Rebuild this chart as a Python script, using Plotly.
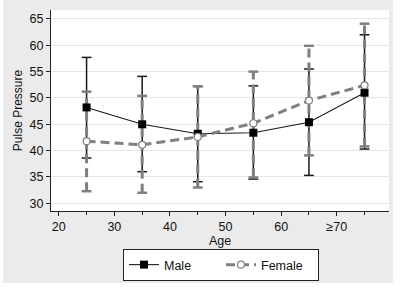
import plotly.graph_objects as go

age = [25, 35, 45, 55, 65, 75]
male_mean = [48.2, 45.0, 43.2, 43.4, 45.4, 51.0]
male_lo = [38.6, 36.0, 34.1, 34.6, 35.3, 40.3]
male_hi = [57.7, 54.1, 52.2, 52.3, 55.5, 62.0]
female_mean = [41.8, 41.1, 42.6, 45.2, 49.5, 52.4]
female_lo = [32.3, 32.0, 33.0, 34.9, 39.1, 40.8]
female_hi = [51.2, 50.4, 52.2, 55.0, 59.9, 64.1]
x_ticks = [20, 30, 40, 50, 60, 70]
x_ticktext = ["20", "30", "40", "50", "60", "≥70"]
y_ticks = [30, 35, 40, 45, 50, 55, 60, 65]

FONT = "Liberation Sans, Arial, sans-serif"
GRAY = "#7f7f7f"
DASH = "9px,5px"

def bar_xy(xs, lo, hi):
    bx, by = [], []
    for x, a, b in zip(xs, lo, hi):
        bx += [x, x, None]
        by += [a, b, None]
    return bx, by

fig = go.Figure()

# Male error bars
mx, my = bar_xy(age, male_lo, male_hi)
fig.add_trace(go.Scatter(x=mx, y=my, mode="lines", line=dict(color="#1a1a1a", width=1.5),
                         showlegend=False, hoverinfo="skip"))
fig.add_trace(go.Scatter(x=age + age, y=male_lo + male_hi, mode="markers",
                         marker=dict(symbol="line-ew", size=7, line=dict(color="#1a1a1a", width=1.5)),
                         showlegend=False, hoverinfo="skip"))
# Female error bars
fx, fy = bar_xy(age, female_lo, female_hi)
fig.add_trace(go.Scatter(x=fx, y=fy, mode="lines", line=dict(color=GRAY, width=3, dash=DASH),
                         showlegend=False, hoverinfo="skip"))
fig.add_trace(go.Scatter(x=age + age, y=female_lo + female_hi, mode="markers",
                         marker=dict(symbol="line-ew", size=7, line=dict(color=GRAY, width=2.5)),
                         showlegend=False, hoverinfo="skip"))

fig.add_trace(go.Scatter(x=age, y=male_mean, mode="lines+markers", name="Male",
                         line=dict(color="#1a1a1a", width=1.1),
                         marker=dict(symbol="square", size=8, color="black")))
fig.add_trace(go.Scatter(x=age, y=female_mean, mode="lines+markers", name="Female",
                         line=dict(color=GRAY, width=3, dash=DASH),
                         marker=dict(symbol="circle", size=7, color="white",
                                     line=dict(color=GRAY, width=1.2))))

L, R, T, B = 51, 11, 10, 76
pw, ph = 400 - L - R, 287 - T - B

def px_x(v):
    return (v - L) / pw

def px_y(v):
    return (T + ph - v) / ph

# thin white page border around the grey chart background
for x0, x1, y0, y1 in [(0, 3, 0, 287), (393, 400, 0, 287), (0, 400, 283, 287)]:
    fig.add_shape(type="rect", xref="paper", yref="paper",
                  x0=px_x(x0), x1=px_x(x1), y0=px_y(y1), y1=px_y(y0),
                  fillcolor="white", line=dict(width=0), layer="above")

fig.update_layout(
    width=400, height=287,
    margin=dict(l=L, r=R, t=T, b=B, autoexpand=False),
    paper_bgcolor="#ebebeb", plot_bgcolor="white",
    font=dict(family=FONT, size=12, color="#111"),
    showlegend=True,
    legend=dict(orientation="h", xref="container", yref="container",
                x=123 / 400, xanchor="left", y=1 - 249 / 287, yanchor="top",
                bordercolor="#222", borderwidth=1, bgcolor="white",
                font=dict(size=12.5), tracegroupgap=0, entrywidth=52, entrywidthmode="pixels"),
)
fig.update_xaxes(range=[18.6, 79.4], tickmode="array", tickvals=x_ticks, ticktext=x_ticktext,
                 showgrid=False, zeroline=False, showline=True, linecolor="#222", linewidth=1,
                 ticks="outside", ticklen=4, tickcolor="#222", automargin=False,
                 tickfont=dict(size=12.5),
                 minor=dict(tickmode="array", tickvals=age, ticks="outside", ticklen=3, tickcolor="#222"),
                 title=dict(text="Age", standoff=0, font=dict(size=12.5)))
fig.update_yaxes(range=[28.54, 66.7], tickmode="array", tickvals=y_ticks,
                 showgrid=True, gridcolor="#e6e6e6", gridwidth=1, zeroline=False,
                 showline=True, linecolor="#222", linewidth=1,
                 ticks="outside", ticklen=4, tickcolor="#222", automargin=False,
                 tickfont=dict(size=12.5),
                 title=dict(text="Pulse Pressure", standoff=4, font=dict(size=12)))

fig.write_html("out.html", config={"displayModeBar": False},
               post_script="document.body.style.margin='0';")
